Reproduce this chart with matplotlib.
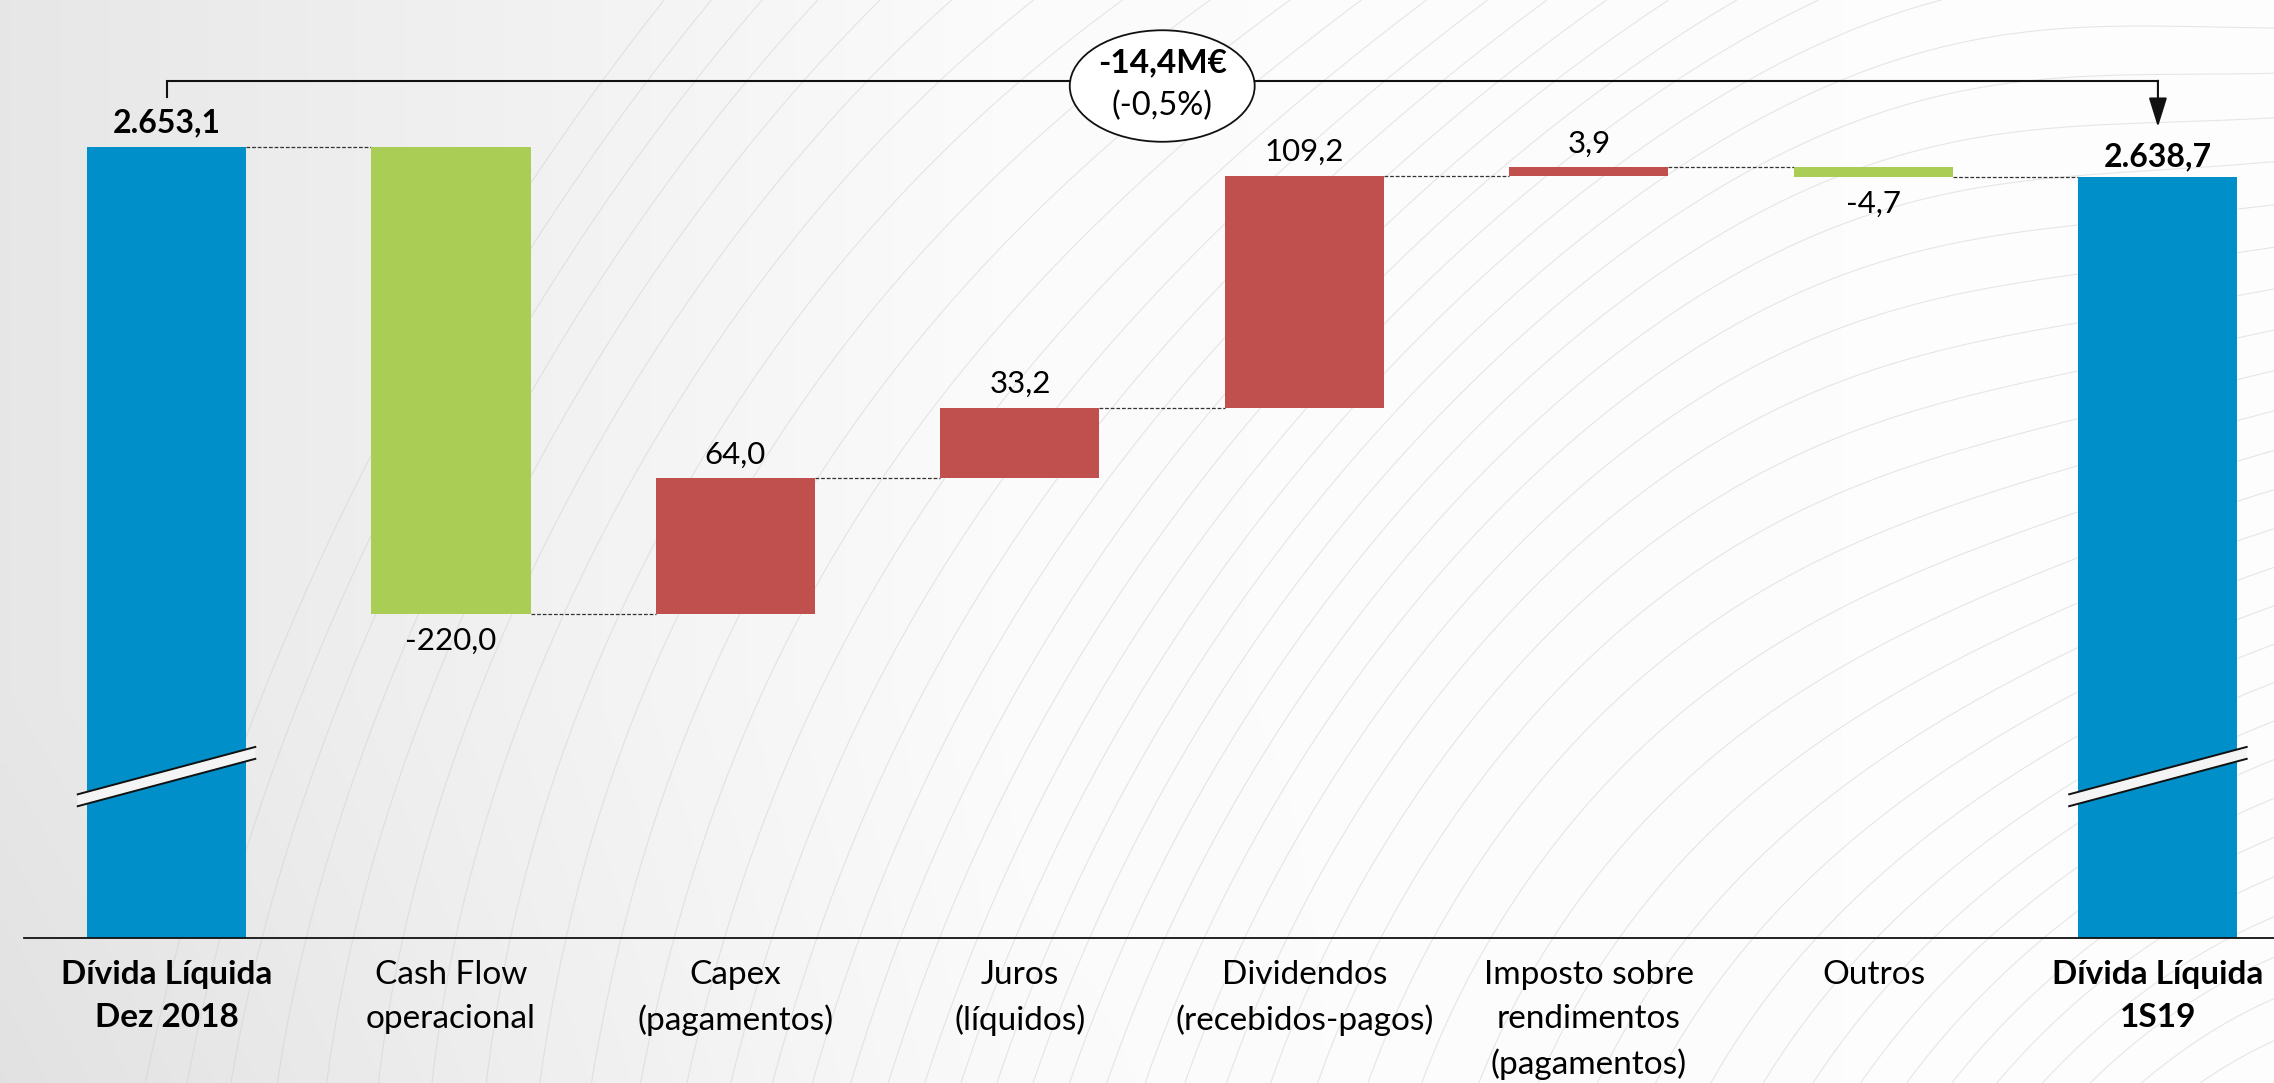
import numpy as np
import matplotlib
matplotlib.use("Agg")
import matplotlib.pyplot as plt
from matplotlib.patches import Ellipse, Polygon

# ---------------- data ----------------
categories = ["Dívida Líquida\nDez 2018", "Cash Flow\noperacional", "Capex\n(pagamentos)",
              "Juros\n(líquidos)", "Dividendos\n(recebidos-pagos)",
              "Imposto sobre\nrendimentos\n(pagamentos)", "Outros", "Dívida Líquida\n1S19"]
start_value = 2653.1
deltas = [-220.0, 64.0, 33.2, 109.2, 3.9, -4.7]
end_value = 2638.7
change_label = "-14,4M€"
change_pct_label = "(-0,5%)"

# ---------------- style ----------------
BLUE = "#008FC9"
GREEN = "#AACD55"
RED = "#C0504D"
FONT = "Lato"
plt.rcParams["font.family"] = [FONT, "DejaVu Sans"]


def fmt(v, decimals=1):
    s = f"{v:,.{decimals}f}"
    return s.replace(",", "X").replace(".", ",").replace("X", ".")


W, H = 2274, 1083
fig = plt.figure(figsize=(W / 100, H / 100), dpi=100)

# ---------- decorative background ----------
bg = fig.add_axes([0, 0, 1, 1], zorder=0)
xs = np.linspace(0, W, 600)
ys = np.linspace(0, H, 300)
X, Y = np.meshgrid(xs, ys)
grad = 0.905 + 0.075 * np.clip(X / (0.45 * W), 0, 1) + 0.015 * np.clip(X / W, 0, 1)
grad = grad - 0.02 * np.clip((Y - 700) / 400, 0, 1) * np.clip(1 - X / (0.6 * W), 0, 1)
bg.imshow(np.dstack([grad, grad, grad]), extent=[0, W, H, 0], aspect="auto")
F = np.hypot(X - 2450, Y - 1500) + 35 * np.sin(X / 170.0 + Y / 300.0)
bg.contour(X, Y, F, levels=np.arange(250, 2350, 42), colors="#CFCFCF",
           linewidths=0.8, alpha=0.5)
bg.set_xlim(0, W)
bg.set_ylim(H, 0)
bg.axis("off")

# ---------- main axes ----------
ax = fig.add_axes([24 / W, 0.1342, 1 - 24 / W, 1 - 0.1342], zorder=1)
ax.set_facecolor("none")
ax.set_xlim(-0.501, 7.408)
ax.set_ylim(2280.7, 2722.2)

bw = 0.559
levels = [start_value]
for d in deltas:
    levels.append(levels[-1] + d)

ax.bar(0, start_value, width=bw, color=BLUE, zorder=2)
for i, d in enumerate(deltas):
    x = i + 1
    bottom = min(levels[i], levels[i + 1])
    ax.bar(x, abs(d), bottom=bottom, width=bw, color=RED if d > 0 else GREEN, zorder=2)
ax.bar(7, end_value, width=bw, color=BLUE, zorder=2)

# connectors
for i in range(7):
    ax.plot([i + bw / 2, i + 1 - bw / 2], [levels[i], levels[i]], color="#333333",
            lw=0.9, dashes=(3, 1.5), zorder=1)

# value labels
ax.annotate(fmt(start_value), (0, start_value), xytext=(0, 17), textcoords="offset points",
            ha="center", va="center", fontsize=23, fontweight="bold")
for i, d in enumerate(deltas):
    x = i + 1
    top = max(levels[i], levels[i + 1])
    bottom = min(levels[i], levels[i + 1])
    if d > 0:
        ax.annotate(fmt(d), (x, top), xytext=(0, 17), textcoords="offset points",
                    ha="center", va="center", fontsize=22.5)
    else:
        ax.annotate(fmt(d), (x, bottom), xytext=(0, -19), textcoords="offset points",
                    ha="center", va="center", fontsize=22.5)
ax.annotate(fmt(end_value), (7, end_value), xytext=(0, 15), textcoords="offset points",
            ha="center", va="center", fontsize=23, fontweight="bold")

# bracket with arrow
yb = start_value + 31.1
ax.plot([0, 0, 7], [start_value + 23.5, yb, yb], color="#111111", lw=1.5,
        solid_joinstyle="miter", zorder=3, clip_on=False)
ax.annotate("", xy=(7, end_value + 23.7), xytext=(7, yb),
            arrowprops=dict(arrowstyle="-|>,head_length=0.9,head_width=0.28", color="#111111",
                            lw=1.5, shrinkA=0, shrinkB=0, mutation_scale=20), zorder=3)
ax.add_patch(Ellipse((3.5, start_value + 28.6), 0.65, 52.5, facecolor="white",
                     edgecolor="#111111", lw=1.3, zorder=4))
ax.text(3.5, start_value + 39.6, change_label, ha="center", va="center", fontsize=24,
        fontweight="bold", zorder=5)
ax.text(3.5, start_value + 19.4, change_pct_label, ha="center", va="center", fontsize=23.5,
        zorder=5)

# axis-break marks
hw, y0, rise, gap = 0.312, 2348.2, 22.3, 5.6
for xc in (0, 7):
    poly = Polygon([(xc - hw, y0), (xc + hw, y0 + rise), (xc + hw, y0 + rise - gap),
                    (xc - hw, y0 - gap)], closed=True, facecolor="#F4F4F4",
                   edgecolor="none", zorder=3)
    ax.add_patch(poly)
    ax.plot([xc - hw, xc + hw], [y0, y0 + rise], color="#111111", lw=1.4, zorder=4)
    ax.plot([xc - hw, xc + hw], [y0 - gap, y0 + rise - gap], color="#111111", lw=1.4, zorder=4)

# axes styling
ax.set_xticks(range(len(categories)))
ax.set_xticklabels(categories, fontsize=24, linespacing=1.58)
for idx in (0, len(categories) - 1):
    ax.get_xticklabels()[idx].set_fontweight("bold")
ax.tick_params(axis="x", length=0, pad=16)
ax.set_yticks([])
for s in ("top", "right", "left"):
    ax.spines[s].set_visible(False)
ax.spines["bottom"].set_linewidth(1.3)
ax.spines["bottom"].set_color("#111111")

fig.savefig("out.png", dpi=100)
